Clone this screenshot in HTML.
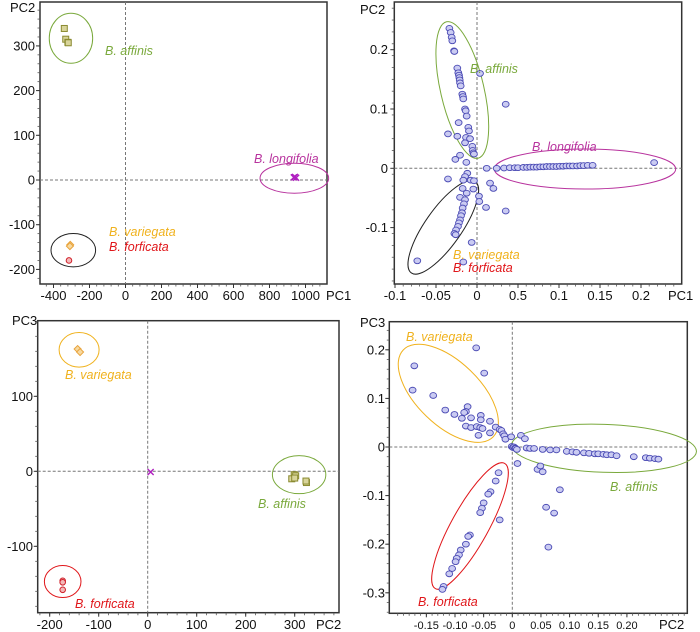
<!DOCTYPE html>
<html><head><meta charset="utf-8">
<style>
html,body{margin:0;padding:0;background:#fff;}
svg{display:block;font-family:"Liberation Sans",sans-serif;}
.tk{font-size:13px;fill:#111;}
.tks{font-size:11px;fill:#111;}
.sp{font-size:12.5px;font-style:italic;}
</style></head>
<body>
<svg id="fig" width="700" height="632" viewBox="0 0 700 632"></svg>
<script>
// ---------- Panel A data (PC1 vs PC2, raw) ----------
const aAffX=[-340,-332,-320,-318];
const aAffY=[339,315,308,307];
const aVarX=[-307,-309];
const aVarY=[-145,-148];
const aForX=[-314];
const aForY=[-180];
const aLonX=[941,948,935];
const aLonY=[7,5,6];
const aXTicks=[-400,-200,0,200,400,600,800,1000];
const aYTicks=[-200,-100,0,100,200,300];

// ---------- Panel B data (PC1 vs PC2, normalized) ----------
const bX=[-0.0337,-0.0321,-0.0309,-0.0301,-0.028,-0.0276,-0.024,-0.0228,-0.022,-0.0215,-0.0211,-0.0207,-0.0199,-0.0179,-0.0171,-0.0167,-0.0146,-0.0138,-0.0126,-0.0224,-0.0106,-0.0098,-0.0354,-0.024,-0.0134,-0.0146,-0.0085,-0.0057,-0.0053,-0.0045,-0.0037,-0.0207,-0.0264,-0.013,0.0037,0.035,
-0.0354,-0.0118,-0.0146,-0.0167,-0.0077,-0.0037,-0.0175,-0.0045,-0.0207,-0.0126,-0.0146,-0.0159,-0.0175,-0.0183,-0.0195,-0.0207,-0.022,-0.0232,-0.0256,-0.0276,-0.026,-0.0728,-0.0167,-0.0065,0.0024,0.0028,0.011,0.0159,0.02,0.035,
0.0118,0.024,0.033,0.04,0.046,0.05,0.0565,0.061,0.065,0.069,0.073,0.077,0.081,0.085,0.089,0.093,0.097,0.101,0.105,0.109,0.113,0.117,0.122,0.126,0.13,0.135,0.141,0.216];
const bY=[0.236,0.229,0.221,0.215,0.198,0.197,0.169,0.161,0.157,0.153,0.149,0.144,0.139,0.125,0.121,0.117,0.1,0.097,0.088,0.077,0.069,0.063,0.058,0.054,0.052,0.043,0.05,0.037,0.03,0.026,0.024,0.022,0.015,0.01,0.16,0.108,
-0.018,-0.0084,-0.014,-0.02,-0.02,-0.021,-0.034,-0.035,-0.049,-0.042,-0.053,-0.06,-0.067,-0.075,-0.08,-0.087,-0.092,-0.098,-0.104,-0.11,-0.112,-0.156,-0.158,-0.125,-0.047,-0.056,-0.066,-0.025,-0.034,-0.072,
0.0,0.0,0.0005,0.001,0.001,0.001,0.0015,0.0015,0.002,0.002,0.002,0.0025,0.0025,0.003,0.003,0.003,0.003,0.0035,0.0035,0.004,0.004,0.004,0.004,0.0045,0.0045,0.005,0.005,0.0096];
const bXTicks=[-0.1,-0.05,0,0.05,0.1,0.15,0.2];
const bXLabels=["-0.1","-0.05","0","0.5","0.1","0.15","0.2"];
const bYTicks=[-0.1,0,0.1,0.2];

// ---------- Panel C data (PC2 vs PC3, raw) ----------
const cVarX=[-143,-138];
const cVarY=[163,159];
const cLonX=[6];
const cLonY=[-1];
const cAffX=[299,302,294,300,324,323];
const cAffY=[-4.5,-6,-10,-9,-15,-13];
const cForX=[-173.5,-173.5,-173.5];
const cForY=[-146,-148,-158];
const cXTicks=[-200,-100,0,100,200,300];
const cYTicks=[-100,0,100];

// ---------- Panel D data (PC2 vs PC3, normalized) ----------
const dX=[-0.063,-0.171,-0.049,-0.174,-0.138,-0.117,-0.101,-0.078,-0.081,-0.084,-0.088,-0.072,-0.055,-0.055,-0.039,-0.081,-0.072,-0.062,-0.056,-0.052,-0.059,-0.039,-0.029,-0.022,-0.019,-0.016,-0.014,-0.012,-0.002,0.015,0.022,
-0.001,0.001,0.003,0.005,0.006,
0.008,0.025,0.031,0.038,0.053,0.066,0.077,0.095,0.105,0.112,0.125,0.134,0.144,0.15,0.159,0.165,0.173,0.182,0.212,0.233,0.24,0.249,0.255,
0.009,0.044,0.049,0.053,0.083,0.059,0.073,0.063,
-0.024,-0.029,-0.022,-0.038,-0.042,-0.05,-0.053,-0.056,-0.074,-0.077,-0.081,-0.09,-0.093,-0.097,-0.099,-0.105,-0.11,-0.12,-0.122];
const dY=[0.204,0.167,0.152,0.117,0.106,0.076,0.067,0.083,0.073,0.071,0.059,0.06,0.065,0.056,0.053,0.043,0.04,0.042,0.04,0.038,0.024,0.029,0.041,0.036,0.034,0.027,0.023,0.016,0.021,0.024,0.017,
0.001,-0.001,0.0,-0.002,-0.003,
-0.005,-0.002,-0.003,-0.003,-0.005,-0.006,-0.006,-0.009,-0.01,-0.011,-0.012,-0.013,-0.014,-0.014,-0.015,-0.016,-0.016,-0.018,-0.02,-0.022,-0.023,-0.024,-0.025,
-0.034,-0.046,-0.039,-0.051,-0.088,-0.124,-0.136,-0.206,
-0.053,-0.07,-0.15,-0.092,-0.097,-0.115,-0.126,-0.135,-0.181,-0.184,-0.2,-0.212,-0.222,-0.229,-0.236,-0.25,-0.261,-0.287,-0.293];
const dXTicks=[-0.15,-0.1,-0.05,0,0.05,0.1,0.15,0.2];
const dXLabels=["-0.15","-0.10","-0.05","0","0.05","0.10","0.15","0.20"];
const dYTicks=[-0.3,-0.2,-0.1,0,0.1,0.2];

const NS="http://www.w3.org/2000/svg";
const svg=document.getElementById('fig');
function mk(tag,attrs,parent){const e=document.createElementNS(NS,tag);for(const k in attrs)e.setAttribute(k,attrs[k]);(parent||svg).appendChild(e);return e;}
function txt(s,x,y,anchor,cls,fill,parent){const t=mk('text',{x:x,y:y,'text-anchor':anchor,'class':cls,fill:fill||'#111'},parent);t.textContent=s;return t;}

const GREEN='#7aa93c',MAG='#b8339e',ORG='#f0b21e',RED='#e0161a';

function frame(g,L,R,T,B,sx,sy,xTicks,xLabels,yTicks,xMinor,yMinor,xLabY,yLabX,xName,yName,xNamePos,yNamePos,xCls){
  const fr=mk('rect',{x:L,y:T,width:R-L,height:B-T,fill:'none',stroke:'#333','stroke-width':1.5},g);
  
  
  const zx=mk('line',{x1:L,x2:R,y1:sy(0),y2:sy(0),stroke:'#777','stroke-dasharray':'3,2','stroke-width':1},g);
  
  
  const zy=mk('line',{x1:sx(0),x2:sx(0),y1:T,y2:B,stroke:'#777','stroke-dasharray':'3,2','stroke-width':1},g);
  
  
  for(let v=xMinor[0];v<=xMinor[1]+1e-9;v+=xMinor[2]){const x=sx(v);if(x<L||x>R)continue;mk('line',{x1:x,x2:x,y1:B,y2:B+2.5,stroke:'#555','stroke-width':0.8},g);}
  for(let v=yMinor[0];v<=yMinor[1]+1e-9;v+=yMinor[2]){const y=sy(v);if(y<T||y>B)continue;mk('line',{x1:L-2.5,x2:L,y1:y,y2:y,stroke:'#555','stroke-width':0.8},g);}
  xTicks.forEach((v,i)=>{const x=sx(v);mk('line',{x1:x,x2:x,y1:B,y2:B+4,stroke:'#333','stroke-width':1},g);
    const t=txt(xLabels[i],x,xLabY,'middle',xCls||'tk',null,g);
    
    });
  yTicks.forEach(v=>{const y=sy(v);mk('line',{x1:L-4,x2:L,y1:y,y2:y,stroke:'#333','stroke-width':1},g);
    const t=txt(String(v),yLabX,y+4.5,'end','tk',null,g);
    
    });
  const xn=txt(xName,xNamePos[0],xNamePos[1],'start','tk',null,g);
  
  
  const yn=txt(yName,yNamePos[0],yNamePos[1],'start','tk',null,g);
  
  
}
function ell(g,cx,cy,rx,ry,rot,color,name){const e=mk('ellipse',{cx:cx,cy:cy,rx:rx,ry:ry,fill:'none',stroke:color,'stroke-width':1,transform:`rotate(${rot} ${cx} ${cy})`},g);
  
  }
function label(g,s,x,y,color,name){const t=txt(s,x,y,'start','sp',color,g);
  
  }
function squares(g,xs,ys,sx,sy){xs.forEach((v,i)=>{const r=mk('rect',{x:sx(v)-3,y:sy(ys[i])-3,width:6,height:6,fill:'#d8d49a',stroke:'#8a8a30','stroke-width':1},g);
  
  });}
function diamonds(g,xs,ys,sx,sy,name){xs.forEach((v,i)=>{const x=sx(v),y=sy(ys[i]);const p=mk('polygon',{points:`${x},${y-3.5} ${x+3.5},${y} ${x},${y+3.5} ${x-3.5},${y}`,fill:'#f7d9a0',stroke:'#e8a23a','stroke-width':1},g);
  
  });}
function rcircles(g,xs,ys,sx,sy){xs.forEach((v,i)=>{const c=mk('circle',{cx:sx(v),cy:sy(ys[i]),r:2.8,fill:'#f3b8b8',stroke:'#d0202a','stroke-width':1},g);
  
  });}
function crosses(g,xs,ys,sx,sy){xs.forEach((v,i)=>{const x=sx(v),y=sy(ys[i]);const p=mk('path',{d:`M${x-3},${y-3}L${x+3},${y+3}M${x-3},${y+3}L${x+3},${y-3}`,stroke:'#b020c0','stroke-width':1.4},g);
  
  });}
function bcircles(g,xs,ys,sx,sy){xs.forEach((v,i)=>{const c=mk('ellipse',{cx:sx(v),cy:sy(ys[i]),rx:3.4,ry:2.9,fill:'#cacbf2',stroke:'#4a4ab4','stroke-width':0.9},g);
  
  });}

// ---------- Panel A ----------
(function(){
  const g=mk('g',{});
  
  
  const sx=v=>125.5+v*0.18, sy=v=>180-v*0.447;
  frame(g,40,327,2,284,sx,sy,aXTicks,aXTicks.map(String),aYTicks,[-440,1100,40],[-240,380,20],300,35,'PC1','PC2',[326,300],[10,12]);
  ell(g,sx(-303),sy(317),21.7,25,0,GREEN,'affinis-ellipse');
  ell(g,sx(-290),sy(-157),22.3,16.7,0,'#222','variegata-forficata-ellipse');
  ell(g,sx(938),sy(4),34.3,15,0,MAG,'longifolia-ellipse');
  squares(g,aAffX,aAffY,sx,sy);
  diamonds(g,aVarX,aVarY,sx,sy,'variegata-point');
  rcircles(g,aForX,aForY,sx,sy);
  crosses(g,aLonX,aLonY,sx,sy);
  label(g,'B. affinis',105,55,GREEN,'affinis-label');
  label(g,'B. longifolia',254,163,MAG,'longifolia-label');
  label(g,'B. variegata',109,236,ORG,'variegata-label');
  label(g,'B. forficata',109,251,RED,'forficata-label');
})();

// ---------- Panel B ----------
(function(){
  const g=mk('g',{});
  
  
  const sx=v=>477+v*820, sy=v=>168.3-v*593;
  frame(g,394.3,681.7,2,284,sx,sy,bXTicks,bXLabels,bYTicks,[-0.1,0.25,0.01],[-0.19,0.27,0.02],300,388,'PC1','PC2',[668,300],[360,14]);
  ell(g,462.3,90,21.7,70,-13,GREEN,'affinis-ellipse');
  ell(g,585,169,90.7,20,0,MAG,'longifolia-ellipse');
  ell(g,443.3,227.3,18.3,55.7,35,'#222','variegata-forficata-ellipse');
  bcircles(g,bX,bY,sx,sy);
  label(g,'B. affinis',470,73,GREEN,'affinis-label');
  label(g,'B. longifolia',532,151,MAG,'longifolia-label');
  label(g,'B. variegata',453,259,ORG,'variegata-label');
  label(g,'B. forficata',453,272,RED,'forficata-label');
})();

// ---------- Panel C ----------
(function(){
  const g=mk('g',{});
  
  
  const sx=v=>147.7+v*0.49, sy=v=>471.3-v*0.75;
  frame(g,37.7,339,320.7,612.7,sx,sy,cXTicks,cXTicks.map(String),cYTicks,[-220,390,20],[-180,200,20],629,33,'PC2','PC3',[316,629],[12,325]);
  ell(g,sx(-140),sy(162),20,17.3,0,ORG,'variegata-ellipse');
  ell(g,sx(309),sy(-4.5),26.7,19,0,GREEN,'affinis-ellipse');
  ell(g,sx(-173.5),sy(-147),18.3,16,0,RED,'forficata-ellipse');
  diamonds(g,cVarX,cVarY,sx,sy,'variegata-point');
  crosses(g,cLonX,cLonY,sx,sy);
  squares(g,cAffX,cAffY,sx,sy);
  rcircles(g,cForX,cForY,sx,sy);
  label(g,'B. variegata',65,379,ORG,'variegata-label');
  label(g,'B. affinis',258,508,GREEN,'affinis-label');
  label(g,'B. forficata',75,608,RED,'forficata-label');
})();

// ---------- Panel D ----------
(function(){
  const g=mk('g',{});
  
  
  const sx=v=>512.3+v*573, sy=v=>447-v*486;
  frame(g,389.3,687.3,321.7,613.3,sx,sy,dXTicks,dXLabels,dYTicks,[-0.2,0.3,0.01],[-0.34,0.26,0.02],629,385,'PC2','PC3',[659,629],[360,327],'tks');
  ell(g,448.3,393.3,62.5,31.7,44,ORG,'variegata-ellipse');
  ell(g,604,448.3,92.5,24,2,GREEN,'affinis-ellipse');
  ell(g,470,526,18.5,71.6,29,RED,'forficata-ellipse');
  bcircles(g,dX,dY,sx,sy);
  label(g,'B. variegata',406,341,ORG,'variegata-label');
  label(g,'B. affinis',610,491,GREEN,'affinis-label');
  label(g,'B. forficata',418,606,RED,'forficata-label');
})();
</script>
</body></html>
